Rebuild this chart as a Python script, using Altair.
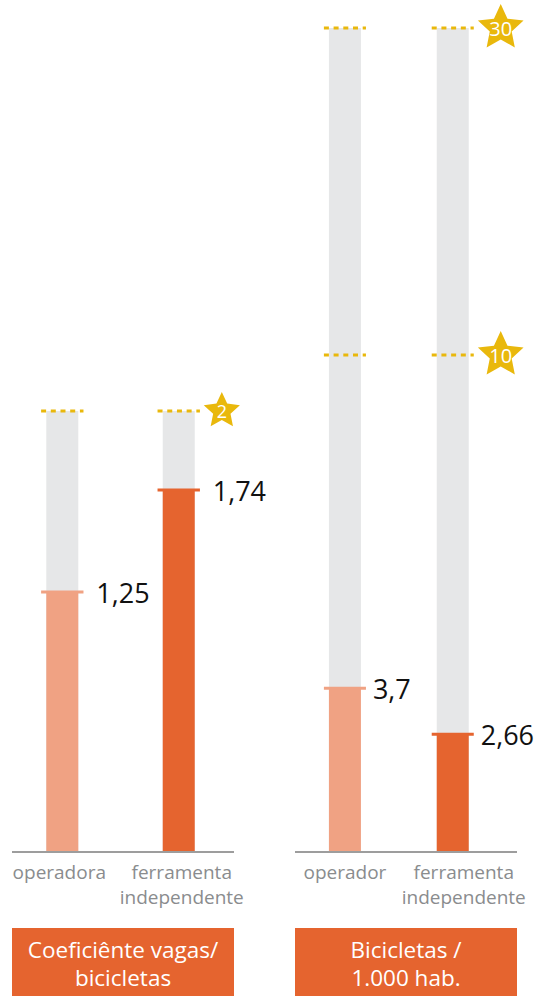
import math
import altair as alt
import pandas as pd

# ---------------- data ----------------
left_cats = ["operadora", "ferramenta\nindependente"]
left_values = [1.25, 1.74]
left_max = [2, 2]
left_levels = [2]
left_star_labels = ["2"]
left_title = "Coeficiênte vagas/\nbicicletas"

right_cats = ["operador", "ferramenta\nindependente"]
right_values = [3.7, 2.66]
right_max = [30, 30]
right_levels = [10, 30]
right_star_labels = ["10", "30"]
right_title = "Bicicletas /\n1.000 hab."

bar_colors = ["#F0A283", "#E5642F"]

FONT = "Open Sans"
GOLD = "#E9B80C"
ORANGE = "#E5642F"
GRAY_BG = "#E6E7E8"
PANEL_W = 272
PANEL_H = 996


def star_path(r_in=0.48):
    pts = []
    for k in range(10):
        rad = 1.0 if k % 2 == 0 else r_in
        a = math.radians(-90 + 36 * k)
        pts.append(f"{rad * math.cos(a):.4f},{rad * math.sin(a):.4f}")
    return "M" + "L".join(pts) + "Z"


STAR = star_path()


def panel(cats, values, maxes, levels, star_labels, title, xdom, ydom, yrange,
          half, star_off, star_size, star_font, value_dx, label_dxs, line_x):
    n = len(cats)
    bars = pd.DataFrame({
        "cat": cats,
        "pos": list(range(n)),
        "value": values,
        "max": maxes,
        "color": bar_colors[:n],
        "label": [str(v).replace(".", ",") for v in values],
    })
    dashes = pd.DataFrame([{"pos": p, "level": lv} for p in range(n) for lv in levels])
    stars = pd.DataFrame({"pos": [n - 1] * len(levels), "level": levels, "txt": star_labels})
    box = pd.DataFrame({"title": [title]})

    xs = alt.Scale(domain=xdom, nice=False, zero=False)
    ys = alt.Scale(domain=ydom, range=yrange, nice=False, zero=False)
    X = lambda f: alt.X(f, scale=xs, axis=None)
    Y = lambda f: alt.Y(f, scale=ys, axis=None)

    base = alt.Chart(bars)
    bg = base.mark_bar(width=32, color=GRAY_BG).encode(
        x=X("pos:Q"), y=Y("max:Q"), y2=alt.datum(0))
    fg = base.mark_bar(width=32).encode(
        x=X("pos:Q"), y=Y("value:Q"), y2=alt.datum(0),
        color=alt.Color("color:N", scale=None))
    cap = base.transform_calculate(
        lo=f"datum.pos - {half}", hi=f"datum.pos + {half}"
    ).mark_rule(strokeWidth=3).encode(
        x=X("lo:Q"), x2="hi:Q", y=Y("value:Q"),
        color=alt.Color("color:N", scale=None))
    vlab = base.mark_text(align="left", baseline="middle", dx=value_dx, dy=3,
                          fontSize=27, font=FONT, color="#111111").encode(
        x=X("pos:Q"), y=Y("value:Q"), text="label:N")
    clabs = [
        base.transform_filter(f"datum.pos == {i}").mark_text(
            align="center", baseline="top", dx=label_dxs[i], lineBreak="\n",
            lineHeight=25, fontSize=19, font=FONT, color="#8A8C8E").encode(
            x=X("pos:Q"), y=alt.value(864), text="cat:N")
        for i in range(n)
    ]

    dash = alt.Chart(dashes).transform_calculate(
        lo=f"datum.pos - {half}", hi=f"datum.pos + {half}"
    ).mark_rule(strokeWidth=3, strokeDash=[5, 4.7], color=GOLD).encode(
        x=X("lo:Q"), x2="hi:Q", y=Y("level:Q"))

    st = alt.Chart(stars).transform_calculate(sx=f"datum.pos + {star_off}")
    star = st.mark_point(shape=STAR, size=star_size, filled=True, color=GOLD,
                         opacity=1, strokeWidth=0).encode(x=X("sx:Q"), y=Y("level:Q"))
    stxt = st.mark_text(baseline="middle", dy=2, fontSize=star_font, font=FONT,
                        color="white").encode(x=X("sx:Q"), y=Y("level:Q"), text="txt:N")

    bx = alt.Chart(box)
    baseline = bx.mark_rule(color="#9D9D9D", strokeWidth=2).encode(
        x=alt.value(line_x[0]), x2=alt.value(line_x[1]), y=alt.value(852))
    rect = bx.mark_rect(color=ORANGE).encode(
        x=alt.value(line_x[0]), x2=alt.value(line_x[1]),
        y=alt.value(928), y2=alt.value(996))
    ttl = bx.mark_text(baseline="top", lineBreak="\n", lineHeight=28, fontSize=22.5,
                       font=FONT, color="white").encode(
        x=alt.value((line_x[0] + line_x[1]) / 2), y=alt.value(940), text="title:N")

    return alt.layer(bg, fg, cap, dash, star, stxt, vlab, *clabs, baseline, rect, ttl).properties(
        width=PANEL_W, height=PANEL_H)


left = panel(left_cats, left_values, left_max, left_levels, left_star_labels, left_title,
             xdom=[-0.492, 1.758], ydom=[0, 1.75, 2], yrange=[852, 488, 411],
             half=0.182, star_off=0.37, star_size=1444, star_font=18,
             value_dx=34, label_dxs=[-3, 3], line_x=(12, 234))

right = panel(right_cats, right_values, right_max, right_levels, right_star_labels, right_title,
              xdom=[-0.63, 1.80], ydom=[0, 4, 10, 30], yrange=[852, 675, 355, 28],
              half=0.195, star_off=0.445, star_size=2304, star_font=20,
              value_dx=28, label_dxs=[0, 11], line_x=(23, 245))

chart = alt.hconcat(left, right, spacing=0).properties(
    padding=0
).configure_view(stroke=None)

chart.save("out.html", embed_options={"renderer": "svg", "actions": False})
